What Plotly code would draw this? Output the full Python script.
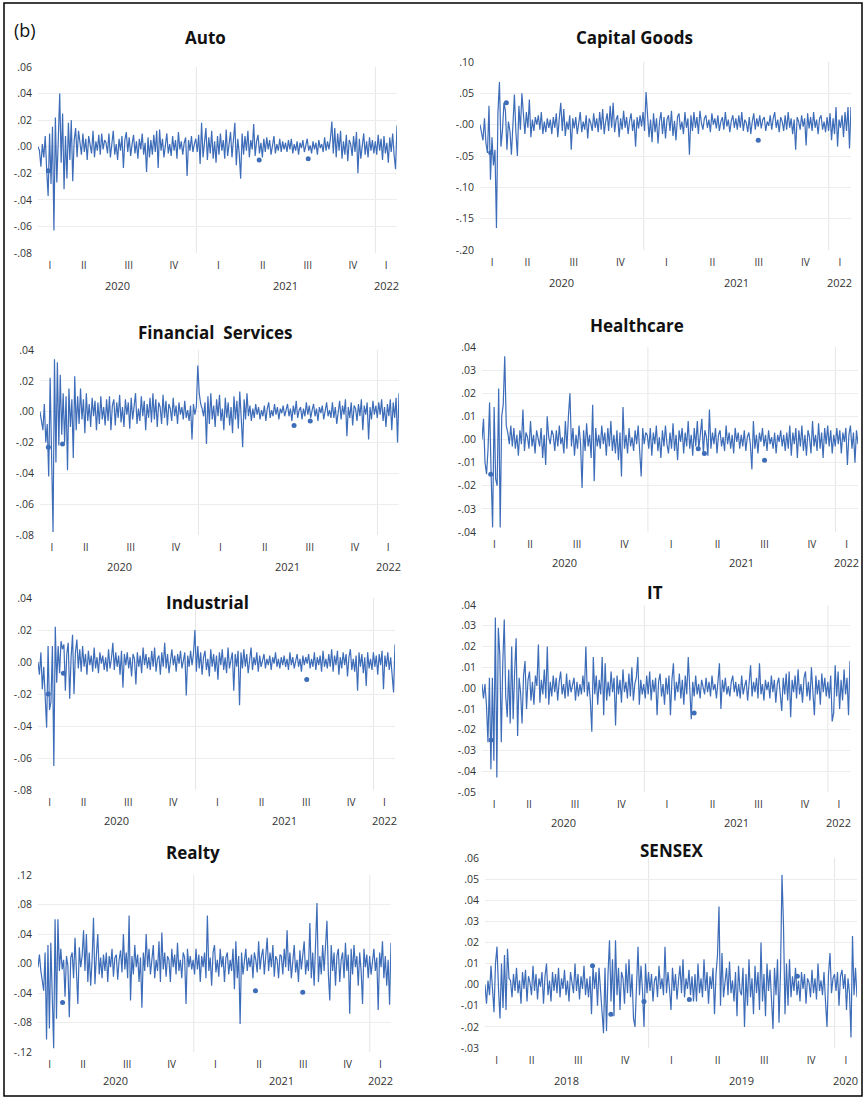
import numpy as np
import pandas as pd
import plotly.graph_objects as go

# Daily returns, written in thousandths (value * 1000)
SCALE = 0.001

PERIOD_MAIN = ("2020-02-13", "2022-02-14")
PERIOD_SENSEX = ("2018-02-14", "2020-02-14")

auto = [0, -3, -15, 2, -8, 8, -18, -37, 10, -28, 15, -63, 22, -27, 5, 40,
        -12, 25, -32, 8, -24, 18, -10, 20, -26, 5, 14, -8, 12, 3, -6, 10, -4, 6, -10, 8, 2, -5, 12, -8, 4, -3, 9, -6, 10, -2, 5,
        3, -5, 10, -8, 4, 12, -6, 2, -10, 6, -3, 8, -16, 5, 11, -4, 7, -7, 2, 9, -5, 4, -9, 6, -2, 10, -6, 3, -19, 7, -8,
        5, -6, 9, -4, 12, -16, 13, -3, 6, -8, 4, 10, -5, 2, -7, 8, -3, 5, -9, 11, -2, 4, -6, 3, 7, -22, 5, -3, 8, -4, 2,
        6, -4, 9, -13, 18, -8, 3, 14, -10, 7, -5, 12, -9, 4, -12, 8, -6, 10, -3, 5, -9, 13, -7, 2, 11, -8, 4, 18, -14, 6, -5,
        -24, 10, -6, 8, -3, 12, -8, 5, -2, 17, -7, 4, 9, -5, 3, -8, 6, -4, 7, -2, 5, -6, 3, 8, -5, 2, -3, 6, -4, 4, -2,
        3, -4, 5, -2, 6, -5, 2, -3, 4, -6, 3, -1, 5, -4, 2, 6, -3, 1, -5, 4, -2, 3, -6, 5, -1, 2, -4, 7, -3, 4, -2,
        6, 19, -5, 14, -8, 10, -3, 12, -9, 4, -6, 9, -11, 5, 2, -7, 8, -4, 11, -20, 6, -9, 3, 10, -6, 4, -8, 7, -3, 5, -5,
        4, -6, 9, -3, 6, -10, 8, -5, 3, -12, 7, -4, 10, -6, -17, 16]
auto_dots = [("2020-03-05", -18), ("2021-05-09", -10), ("2021-08-17", -9)]

capital_goods = [0, -15, -25, 10, -30, -45, 30, -88, -20, -65, -40, -165, 20, 68, -35, -10,
        35, 22, -40, 5, -10, -48, 15, 48, -12, -50, 30, -8, 50, 10, -15, 20, -5, 40, -20, 8, -10, 12, 0, 15, -8, 20, -15, 5, -12, 10, -5,
        8, -15, 12, -5, 18, -20, 10, 35, -10, 25, -18, 5, -8, 15, -40, 10, -6, 12, -15, 8, 20, -12, 5, -8, 15, -22, 10, 3, -10, 18, -5,
        10, -12, 20, -8, 25, -15, 5, 18, -10, 30, -5, 35, -12, 8, 15, -20, 10, -8, 22, -5, 12, -15, 6, 18, -10, 8, -35, 12, -6, 15, -3,
        20, -10, 52, 15, -20, 8, -28, 18, -12, 10, -30, 5, 20, -15, 12, -22, 8, 15, -10, 22, -18, 6, -25, 12, 18, -8, 5, -15, 20, -5, 10,
        -48, 15, -10, 20, -5, 12, -15, 22, 3, -8, 10, 15, -5, 8, -12, 18, 0, 10, -6, 15, -10, 5, 12, -8, 20, -3, 8, -12, 6, 15, -5,
        10, -8, 15, -5, 20, -10, 8, 3, -12, 12, -15, 5, 18, -8, 10, -3, 15, -6, 8, 12, -10, 5, -2, 15, -8, 10, 20, -5, 8, -12, 12,
        5, -10, 15, -8, 20, -5, 10, -15, 8, -40, 12, 5, -8, 15, -3, 10, -33, 18, -6, 12, -10, 20, -5, 8, -15, 10, 15, -8, 5, -12, 12,
        -10, 18, -25, 10, -15, 28, -35, 8, -5, 15, -20, 20, -10, 28, -38, 28]
capital_goods_dots = [("2020-03-05", -45), ("2020-04-05", 35), ("2021-08-15", -25)]

financial_services = [0, -5, -12, 5, -20, -8, -42, 22, -35, -78, 34, -33, 32, -22, 24, -15,
        12, -20, 10, -38, 15, -10, 8, -30, 23, -12, 10, -8, 15, -5, 8, -14, 12, -6, 5, -10, 9, -3, 7, -12, 6, -8, 10, -5, 3, -9, 8,
        -6, 10, -12, 4, 8, -9, 6, -4, 11, -7, 3, -10, 8, -2, 6, -11, 9, -5, 4, 12, -8, 2, -6, 10, -3, 7, -12, 5, -4, 9, -7,
        12, -5, 8, -10, 6, 3, -8, 11, -4, 7, -9, 5, 2, -6, 9, -3, 4, -8, 6, -2, 3, -5, 7, -4, 1, -6, 4, -18, 5, -2, 3,
        30, 12, 5, 2, -3, 6, -21, 10, -8, 12, -5, 4, -10, 8, -3, 11, -6, 2, -12, 9, -4, 6, -9, 3, -14, 10, -5, 7, -11, 13, -4,
        -23, 8, -5, 12, -3, 4, -6, 2, -4, 5, -2, 3, -5, 1, -3, 4, -6, 2, 6, -4, 1, -3, 5, -2, 3, -5, 2, -1, 4, -3, 2,
        5, -3, 2, -6, 4, -2, 7, -4, 1, 3, -5, 2, -3, 6, -2, 4, -4, 1, 5, -3, 2, -6, 3, -1, 4, -5, 2, 6, -3, 1, -4,
        6, -4, 3, -8, 2, 7, -5, 4, -2, 8, -16, 3, -4, 6, -9, 4, 2, -6, 5, -3, 8, -12, 4, -2, 6, -18, 3, -5, 7, -2, 4,
        -4, 6, -2, 8, -6, 3, -10, 5, -3, 8, -12, 6, -4, 9, -20, 12]
financial_services_dots = [("2020-03-01", -23), ("2020-03-30", -21), ("2021-07-15", -9), ("2021-08-17", -6)]

healthcare = [0, 9, -10, -15, -4, 16, -15, -38, 14, -17, -20, 22, -38, 10, 15, 36,
        6, 3, -2, 6, -3, 5, -4, 2, -7, 4, -2, 13, -5, 3, 1, -4, 8, -3, 2, -6, 4, 0, -3, 5, -8, 2, -11, 10, 1, -2, 4,
        2, -5, 4, -3, 6, -2, 1, -6, 8, -4, 10, 20, -3, 5, -7, 2, -4, 6, -2, -21, 4, -5, 7, -3, 2, -8, 15, -18, 5, -3, 2,
        -4, 6, -2, 3, -7, 5, -3, 8, -5, 2, -6, 4, -9, 3, -16, 14, -4, 2, -6, 5, -3, 1, -5, 4, -2, 6, -3, -16, 5, -2, 3,
        2, -4, 5, -7, 3, -2, 6, -5, 1, -8, 4, -3, 6, -2, -6, 3, -4, 7, -5, 2, -9, 4, -1, 5, -6, 3, -3, 8, -4, 2, -7,
        5, -3, 8, -4, 2, 9, -6, 4, 1, -7, 13, -4, 3, -2, 5, -6, 2, 4, -3, 1, -5, 6, -2, 3, -4, 2, -6, 5, -1, 3, -4,
        2, -3, 4, -5, 1, 3, -2, -13, 8, -4, 2, -6, 3, -1, 5, -3, 2, -5, 4, -2, 1, -4, 3, -6, 2, -1, 4, -3, 2, -5, 3,
        -4, 6, -7, 3, -2, 5, -8, 4, -3, 6, -5, 2, -7, 4, 1, -6, 8, -3, 2, -5, 7, -4, 3, -8, 5, -2, 6, -3, 4, -6, 2,
        -3, 5, -2, 4, -6, 3, -1, 5, -11, 2, 6, -4, 3, -10, 4, -2]
healthcare_dots = [("2020-03-01", -15), ("2021-04-09", -4), ("2021-04-21", -6), ("2021-08-16", -9)]

industrial = [0, -8, 6, -17, -3, -20, -41, 10, -30, -25, 10, -65, 22, -13, 10, -7,
        13, 8, 11, -18, 5, 12, -23, 3, 17, -20, 6, 14, -4, 8, -6, 10, -3, 5, -8, 7, -2, 4, -6, 9, -4, 3, -7, 6, -1, 4, -5,
        3, -6, 8, -4, 2, 12, -5, 6, -3, 4, -8, 7, -16, 5, -2, 6, -4, 3, -9, 5, 2, -14, 6, -3, 4, -7, 9, -2, 5, -4, 3,
        -5, 7, -3, 9, -6, 2, 4, -8, 6, -3, 12, -4, 5, -7, 3, 8, -2, 4, -6, 5, -1, 7, -4, 2, 6, -21, 4, -3, 7, -2, 5,
        20, -6, 10, -4, 6, -8, 3, 7, -5, 2, -9, 8, -3, 5, -6, 4, -11, 6, -2, 8, -5, 3, -7, 9, -4, 2, 6, -18, 5, -3, 7,
        -27, 6, -4, 8, -3, 5, -7, 2, 9, -5, 3, -2, 6, -6, 4, -3, 1, 5, -4, 2, -2, 4, -5, 3, -1, 6, -3, 2, -4, 3, -2,
        4, -3, 2, -5, 6, -2, 3, -4, 1, 5, -3, 2, -6, 4, -2, 3, -1, 5, -4, 2, -3, 6, -5, 3, -2, 4, -6, 7, -3, 2, -4,
        5, -3, 8, -6, 4, -2, 7, -8, 3, -4, 6, -2, 5, -9, 3, 8, -5, 2, -6, 4, -18, 6, -3, 5, -7, 3, -15, 6, -4, 2, -5,
        6, -3, 4, -8, 5, -2, 7, -17, 4, -3, 6, -5, 3, -8, -19, 11]
industrial_dots = [("2020-03-05", -20), ("2020-04-05", -7), ("2021-08-17", -11)]

it = [2, -5, 2, -8, -26, 5, -39, 5, -35, 34, -43, 29, 16, -26, 12, 33,
        -4, -14, 9, -17, 20, -15, 8, 24, -23, 5, -2, -17, 6, 13, -10, 4, 8, -6, 3, -8, 6, 1, 21, -7, 4, -3, 9, -5, 20, -8, 3,
        -4, 6, -2, 5, -6, 3, 8, -3, 2, -5, 7, -4, 4, -2, 1, 5, -6, 3, -4, 2, -3, 6, -2, 20, -4, 3, -6, -21, 15, -3, 6,
        -8, 4, -3, 15, -13, 12, -6, 3, -4, 8, -2, 5, -18, 6, -3, 4, -7, 9, -2, 3, -5, 7, -4, 10, -6, 2, 5, 15, -8, 4, -3,
        2, -5, 6, -3, 8, -6, 4, -2, 5, -13, 3, 7, -4, 2, -8, 5, -3, 6, -13, 4, 12, -6, 3, -2, 7, -5, 4, -8, 6, -3, 15,
        -2, -15, 3, -4, 6, -3, 2, -5, 4, 1, -3, 5, -2, 3, -4, 6, -1, 2, -5, 3, 12, -10, 4, -2, 5, -3, 1, -4, 3, 6, -2,
        3, -4, 2, -5, 6, -3, 1, 4, -6, 2, 11, -4, 3, -2, 5, -5, 12, -3, 2, -6, 4, -1, 3, -5, 6, -2, 4, -7, 2, 5, -3,
        -11, 5, -3, 7, -6, 8, -14, 4, -2, 6, -5, 9, -3, 2, -7, 5, 8, -4, 3, -6, 10, -2, -13, 6, -3, 4, -8, 7, -2, 5, -4,
        3, -5, 6, -16, -12, 11, -4, 8, -10, 4, -6, 9, -3, 5, -13, 13]
it_dots = [("2020-03-02", -25), ("2021-04-10", -12)]

realty = [-5, 12, -10, -25, -37, 15, -103, 25, -88, 28, -65, -115, 60, -75, 60, -10,
        20, -8, 5, -45, 10, -3, -73, 8, 15, -20, 35, -15, -55, 22, -5, 10, 45, -10, 40, -25, 15, -30, 5, 62, -28, 10, 40, -15, 8, -20, 12,
        -10, 15, -25, 10, -5, 20, -18, 8, 12, -22, 5, 18, -12, 40, -8, 15, -20, 65, -50, 10, -15, 25, -5, 12, -25, 8, -60, 15, -10, 40, -5,
        20, -15, 8, 25, -20, 5, -10, 30, -25, 42, -8, 15, -18, 10, 5, -25, 20, -5, 12, -15, 28, -10, 5, -20, 15, 8, -55, 20, -5, 10, -8,
        5, -15, 20, -8, 12, -25, 10, -5, 15, -20, 65, -10, 8, -30, 15, 25, -12, 5, -18, 20, -5, 10, -25, 8, 15, -15, 5, -10, 20, -35, 30,
        -20, 10, -82, 15, -15, 5, 20, -10, 8, -5, 12, -20, 15, 5, -12, 30, -8, 10, 20, -15, 5, 35, -10, 15, -5, 25, -18, 10, 5, -20, 12,
        10, -15, 20, -5, 45, -10, 15, -20, 8, 25, -12, 5, -25, 18, -8, 10, 30, -15, 5, -10, 55, -20, 15, -30, 20, 82, -25, 10, -15, 25, -10,
        20, 58, -15, -50, 25, -10, 15, -30, 10, 20, -25, 5, 15, -20, 28, -10, 12, -68, 20, -15, 25, -5, 10, -30, 15, -10, -55, 20, -5, 12, -20,
        10, -15, 5, 20, -10, 8, -63, 15, -5, 30, -20, 10, -30, 5, -56, 28]
realty_dots = [("2020-04-04", -53), ("2021-05-09", -37), ("2021-08-15", -39)]

sensex = [0, -9, 2, -5, 9, -5, -13, 10, 18, -2, -16, 10, -11, 14, -12, 17,
        3, 2, -6, 5, -3, 8, -4, 2, -9, 6, -2, 7, -8, 4, 1, -5, 9, -3, 5, -7, 3, -1, 6, -9, 4, 10, -5, 2, -8, 6, -3,
        5, -4, 8, -6, 3, -2, 7, -5, 2, -8, 6, 1, -4, 10, -3, 5, -7, 4, -2, 9, -5, 3, -6, 4, -14, 9, -2, 6, -10, 8, -4,
        -10, -23, 8, -22, 5, 21, -8, 12, -15, 21, -5, 8, -12, 6, 3, -9, 10, -4, 12, -6, 5, -16, -20, 4, 18, -5, 9, -3, -20, 10, -4,
        6, -3, 5, -8, 2, 4, -6, 9, -2, 3, -5, 18, -4, 6, -2, -12, 8, -3, 5, -7, 2, 9, -4, 12, -6, 3, -2, 7, -5, 4, -8,
        5, -8, 10, -4, 3, -6, 12, -3, 6, -9, 4, -2, 8, -14, 5, 14, 37, -10, 15, -6, 3, 8, -5, 11, -4, 2, -8, 6, -15, 9, -3,
        -5, 8, -20, 5, -10, 12, -6, 3, -14, 9, -4, 6, -12, 20, -8, 5, -15, 10, -3, 7, -9, -21, 8, -5, 12, -18, 6, 52, 28, -14, 10,
        -10, 12, -6, 4, -3, 8, -5, 2, -8, 6, -2, 5, -9, 3, 1, -6, 7, -4, 3, -7, 10, -3, 2, -5, 6, -8, -20, 5, 15, -4, 3,
        5, -3, 6, -10, 4, 7, -2, 5, -12, 3, -4, -25, 23, -5, 8, -6]
sensex_dots = [("2018-09-13", 9), ("2018-10-19", -14), ("2018-12-23", -8), ("2019-03-22", -7), ("2019-10-20", 4)]

# panel layout (pixel boxes measured on the 865x1099 page)
panels = [
    dict(title="Auto", vals=auto, dots=auto_dots, period=PERIOD_MAIN, yr=(-0.08, 0.06, 0.02),
         box=(38, 397, 67, 253), tpos=(205, 37), yearpx=285),
    dict(title="Capital Goods", vals=capital_goods, dots=capital_goods_dots, period=PERIOD_MAIN, yr=(-0.20, 0.10, 0.05),
         box=(480, 851, 62, 250), tpos=(634, 37), yearpx=282),
    dict(title="Financial  Services", vals=financial_services, dots=financial_services_dots, period=PERIOD_MAIN, yr=(-0.08, 0.04, 0.02),
         box=(40, 399, 350, 535), tpos=(215, 333), yearpx=566),
    dict(title="Healthcare", vals=healthcare, dots=healthcare_dots, period=PERIOD_MAIN, yr=(-0.04, 0.04, 0.01),
         box=(482, 858, 347, 532), tpos=(637, 325), yearpx=562),
    dict(title="Industrial", vals=industrial, dots=industrial_dots, period=PERIOD_MAIN, yr=(-0.08, 0.04, 0.02),
         box=(38, 395, 598, 790), tpos=(207, 602), yearpx=820),
    dict(title="IT", vals=it, dots=it_dots, period=PERIOD_MAIN, yr=(-0.05, 0.04, 0.01),
         box=(482, 850, 605, 792), tpos=(655, 592), yearpx=822),
    dict(title="Realty", vals=realty, dots=realty_dots, period=PERIOD_MAIN, yr=(-0.12, 0.12, 0.04),
         box=(38, 391, 875, 1052), tpos=(193, 852), yearpx=1080),
    dict(title="SENSEX", vals=sensex, dots=sensex_dots, period=PERIOD_SENSEX, yr=(-0.03, 0.06, 0.01),
         box=(485, 857, 858, 1048), tpos=(672, 850), yearpx=1080),
]

W, H = 865, 1099
BLUE = "#3d6cb8"
TXT = "#333333"
ROMAN = ["I", "II", "III", "IV"]


def fmt(v):
    s = f"{v:.2f}"
    return s.replace("0.", ".", 1)


def px_x(p):
    return p / W


def px_y(p):
    return 1 - p / H


fig = go.Figure()
annotations = []
shapes = []

for k, p in enumerate(panels):
    suf = "" if k == 0 else str(k + 1)
    xa, ya = "x" + suf, "y" + suf
    s, e = pd.Timestamp(p["period"][0]), pd.Timestamp(p["period"][1])
    vals = np.array(p["vals"], dtype=float) * SCALE
    dates = pd.date_range(s, e, periods=len(vals))
    fig.add_trace(go.Scatter(x=dates, y=vals, mode="lines", xaxis=xa, yaxis=ya,
                             line=dict(color=BLUE, width=1.2), showlegend=False, hoverinfo="skip"))
    dd = [pd.Timestamp(d) for d, _ in p["dots"]]
    dv = [v * SCALE for _, v in p["dots"]]
    fig.add_trace(go.Scatter(x=dd, y=dv, mode="markers", xaxis=xa, yaxis=ya,
                             marker=dict(color=BLUE, size=5), showlegend=False, hoverinfo="skip"))

    # quarter ticks at the middle of the visible part of each quarter
    tv, tt = [], []
    for qs in pd.date_range(s.to_period("Q").start_time, e, freq="QS"):
        qe = qs + pd.DateOffset(months=3)
        a, b = max(qs, s), min(qe, e)
        tv.append(a + (b - a) / 2)
        tt.append(ROMAN[qs.quarter - 1])

    L, R, T, B = p["box"]
    ymin, ymax, step = p["yr"]
    yt = [round(v, 3) for v in np.arange(ymin, ymax + step / 2, step)]

    fig.layout["xaxis" + suf] = dict(domain=[px_x(L), px_x(R)], anchor=ya, range=[s, e], type="date",
                                     tickvals=tv, ticktext=tt, ticks="", showgrid=False, zeroline=False,
                                     showline=False, automargin=False, ticklabelstandoff=5,
                                     tickfont=dict(size=10, color=TXT, family="Open Sans"),
                                     fixedrange=True)
    fig.layout["yaxis" + suf] = dict(domain=[px_y(B), px_y(T)], anchor=xa, range=[ymin, ymax],
                                     tickvals=yt, ticktext=[fmt(v) for v in yt], ticks="",
                                     showgrid=True, gridcolor="#ededed", gridwidth=1, zeroline=False,
                                     showline=False, automargin=False, ticklabelstandoff=5,
                                     tickfont=dict(size=10.5, color=TXT, family="Open Sans"),
                                     fixedrange=True)

    # vertical year separators
    for yr in range(s.year + 1, e.year + 1):
        shapes.append(dict(type="line", xref=xa, yref=ya + " domain", x0=pd.Timestamp(yr, 1, 1),
                           x1=pd.Timestamp(yr, 1, 1), y0=0, y1=1, layer="below",
                           line=dict(color="#e6e6e6", width=1)))
    # year labels under the quarter labels
    for yr in range(s.year, e.year + 1):
        a, b = max(pd.Timestamp(yr, 1, 1), s), min(pd.Timestamp(yr + 1, 1, 1), e)
        annotations.append(dict(text=str(yr), xref=xa, yref="paper", x=a + (b - a) / 2,
                                y=px_y(p["yearpx"]), showarrow=False, yanchor="middle",
                                font=dict(size=11, color=TXT, family="Open Sans")))
    # title
    annotations.append(dict(text="<b>%s</b>" % p["title"], xref="paper", yref="paper",
                            x=px_x(p["tpos"][0]), y=px_y(p["tpos"][1]), showarrow=False,
                            xanchor="center", yanchor="middle",
                            font=dict(size=17, color="#111111", family="Open Sans")))

annotations.append(dict(text="(b)", xref="paper", yref="paper", x=px_x(12), y=px_y(30),
                        xanchor="left", yanchor="middle", showarrow=False,
                        font=dict(size=18, color="#111111", family="Open Sans")))
shapes.append(dict(type="rect", xref="paper", yref="paper", x0=px_x(4), x1=px_x(862),
                   y0=px_y(1096), y1=px_y(3), line=dict(color="#000000", width=1.5)))

fig.update_layout(width=W, height=H, margin=dict(l=0, r=0, t=0, b=0, autoexpand=False),
                  paper_bgcolor="white", plot_bgcolor="white",
                  annotations=annotations, shapes=shapes, showlegend=False)

POST = ("document.documentElement.style.margin='0px';document.documentElement.style.overflow='hidden';"
        "document.body.style.margin='0px';document.body.style.overflow='hidden';"
        "var gd=document.getElementById('{plot_id}');gd.style.position='absolute';"
        "gd.style.left='0px';gd.style.top='0px';")

fig.write_html("out.html", config={"displayModeBar": False}, post_script=POST)
